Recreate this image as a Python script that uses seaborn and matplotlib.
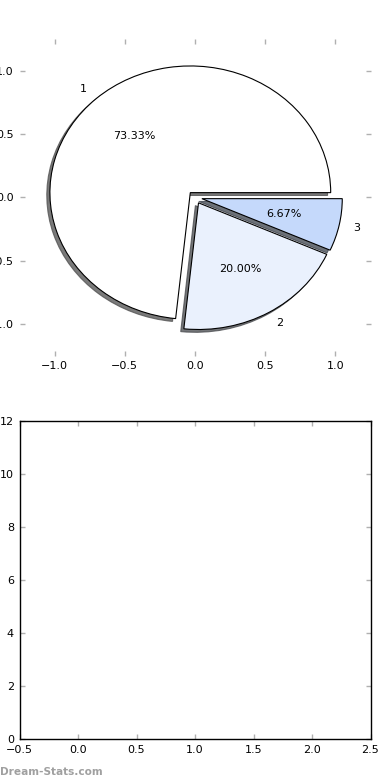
import numpy as np
import seaborn as sns
import matplotlib
matplotlib.use("Agg")
import matplotlib.pyplot as plt

# Data
labels = ['1', '2', '3']
counts = [11, 3, 1]
colors = ['#ffffff', '#eaf1fd', '#c5d9fb']
explode = [0.05, 0.05, 0.05]

pie_ticks = [-1.0, -0.5, 0.0, 0.5, 1.0]
bar_xticks = [-0.5, 0.0, 0.5, 1.0, 1.5, 2.0, 2.5]
bar_yticks = [0, 2, 4, 6, 8, 10, 12]

sns.set_style("white")
plt.rcParams['font.family'] = ['DejaVu Sans']
plt.rcParams['font.size'] = 8
plt.rcParams['text.color'] = 'black'

fig = plt.figure(figsize=(3.9, 7.8), dpi=100)

# Pie chart (top)
ax1 = fig.add_axes([0.05, 0.544, 0.90, 0.406])
wedges, texts, autotexts = ax1.pie(counts, labels=labels, colors=colors, explode=explode,
                                   autopct='%.2f%%', startangle=0,
                                   shadow={'ox': -0.016, 'oy': -0.016, 'alpha': 0.75},
                                   wedgeprops={'edgecolor': 'black', 'linewidth': 0.8},
                                   textprops={'fontsize': 8, 'color': 'black'})
ax1.set_aspect('auto')
ax1.set_frame_on(True)
ax1.set_xlim(-1.25, 1.25)
ax1.set_ylim(-1.25, 1.25)
ax1.set_xticks(pie_ticks)
ax1.set_yticks(pie_ticks)
for s in ax1.spines.values():
    s.set_visible(False)

# Empty axes (bottom)
ax2 = fig.add_axes([0.05, 0.052, 0.90, 0.408])
ax2.set_xlim(-0.5, 2.5)
ax2.set_ylim(0, 12)
ax2.set_xticks(bar_xticks)
ax2.set_yticks(bar_yticks)
for s in ax2.spines.values():
    s.set_visible(True)
    s.set_color('black')
    s.set_linewidth(1.0)

for ax in (ax1, ax2):
    ax.tick_params(axis='both', which='both', direction='in', length=3.5, width=1,
                   color='#b0b0b0', labelcolor='black', labelsize=8,
                   top=True, right=True, bottom=True, left=True, pad=4)

fig.text(0.0, 0.004, 'Dream-Stats.com', color='#a0a0a0', fontsize=7.6,
         fontweight='bold', ha='left', va='bottom')

fig.savefig('out.png', dpi=100)
